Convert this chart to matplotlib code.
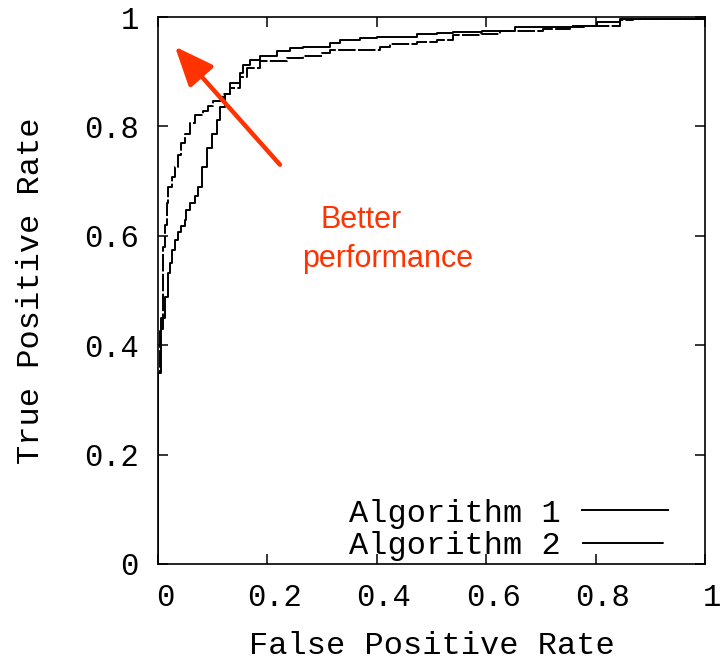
import numpy as np
import matplotlib
matplotlib.use("Agg")
import matplotlib.pyplot as plt
import matplotlib.transforms as mtransforms

# ROC points (staircase corners)
fpr_1 = [0.0, 0.0, 0.006, 0.006, 0.013, 0.019, 0.022, 0.025, 0.031, 0.037,
         0.043, 0.049, 0.052, 0.059, 0.068, 0.074, 0.080, 0.089, 0.098, 0.107,
         0.113, 0.122, 0.132, 0.150, 0.156, 0.168, 0.186, 0.217, 0.241, 0.266,
         0.314, 0.333, 0.369, 0.400, 0.473, 0.510, 0.540, 0.592, 0.653, 0.778,
         0.802, 0.845, 1.0]
tpr_1 = [0.0, 0.35, 0.35, 0.45, 0.489, 0.532, 0.550, 0.574, 0.592, 0.607,
         0.618, 0.629, 0.648, 0.660, 0.672, 0.690, 0.726, 0.760, 0.787, 0.812,
         0.836, 0.860, 0.879, 0.897, 0.912, 0.921, 0.928, 0.937, 0.943, 0.946,
         0.952, 0.958, 0.961, 0.964, 0.969, 0.970, 0.972, 0.974, 0.982, 0.984,
         0.990, 0.996, 0.997]

fpr_2 = [0.0, 0.0, 0.004, 0.004, 0.009, 0.009, 0.010, 0.013, 0.016, 0.019,
         0.025, 0.031, 0.037, 0.043, 0.049, 0.059, 0.068, 0.083, 0.092, 0.101,
         0.119, 0.132, 0.150, 0.162, 0.186, 0.235, 0.266, 0.300, 0.314, 0.400,
         0.406, 0.424, 0.473, 0.510, 0.540, 0.590, 0.625, 0.653, 0.704, 0.753,
         0.800, 0.845, 0.868, 1.0]
tpr_2 = [0.0, 0.35, 0.35, 0.43, 0.45, 0.52, 0.58, 0.62, 0.66, 0.69,
         0.708, 0.726, 0.748, 0.769, 0.787, 0.806, 0.821, 0.829, 0.838, 0.846,
         0.860, 0.870, 0.890, 0.906, 0.919, 0.926, 0.928, 0.934, 0.940, 0.940,
         0.946, 0.950, 0.955, 0.958, 0.967, 0.969, 0.974, 0.975, 0.979, 0.983,
         0.984, 0.994, 0.997, 0.997]

labels = ["Algorithm 1", "Algorithm 2"]
ticks = [0, 0.2, 0.4, 0.6, 0.8, 1]
tick_labels = ["0", "0.2", "0.4", "0.6", "0.8", "1"]

mono = "Liberation Mono"
red = "#ff3300"

fig = plt.figure(figsize=(7.21, 6.60), dpi=100)
ax = fig.add_axes([0.2191, 0.1455, 0.7587, 0.8287])

ax.plot(fpr_1, tpr_1, color="black", lw=1.4, drawstyle="steps-post", label=labels[0])
ax.plot(fpr_2, tpr_2, color="black", lw=1.4, drawstyle="steps-post",
        dashes=(9, 1.2), label=labels[1])

ax.set_xlim(0, 1)
ax.set_ylim(0, 1)
ax.set_xticks(ticks)
ax.set_yticks(ticks)
ax.set_xticklabels(tick_labels, family=mono, fontsize=22)
ax.set_yticklabels(tick_labels, family=mono, fontsize=22)
ax.tick_params(direction="in", length=7, width=1.1, top=True, right=True, pad=14)
for s in ax.spines.values():
    s.set_linewidth(1.2)

# gnuplot puts the x labels a little right of the ticks
shift = mtransforms.ScaledTranslation(5 / 72, 0, fig.dpi_scale_trans)
for lab in ax.get_xticklabels():
    lab.set_transform(lab.get_transform() + shift)

ax.set_xlabel("False Positive Rate", family=mono, fontsize=23)
ax.set_ylabel("True Positive Rate", family=mono, fontsize=23)
ax.xaxis.set_label_coords(0.5, -0.122)
ax.yaxis.set_label_coords(-0.205, 0.5)

leg = ax.legend(loc="lower right", bbox_to_anchor=(0.932, 0.005), frameon=False,
                markerfirst=False, handlelength=2.7, handletextpad=0.65,
                labelspacing=0.08, borderpad=0, borderaxespad=0,
                prop={"family": mono, "size": 23})
leg.get_lines()[1].set_dashes((42, 2.5, 1, 10))

ax.annotate("", xy=(0.031, 0.946), xytext=(0.223, 0.73),
            arrowprops=dict(arrowstyle="-|>,head_length=1.2,head_width=0.5",
                            color=red, lw=3.2, mutation_scale=20,
                            shrinkA=0, shrinkB=0))
ax.text(0.371, 0.614, "Better", color=red, fontsize=22,
        family="Liberation Sans", ha="center", va="baseline")
ax.text(0.419, 0.543, "performance", color=red, fontsize=22,
        family="Liberation Sans", ha="center", va="baseline")

fig.savefig("out.png", dpi=100)
